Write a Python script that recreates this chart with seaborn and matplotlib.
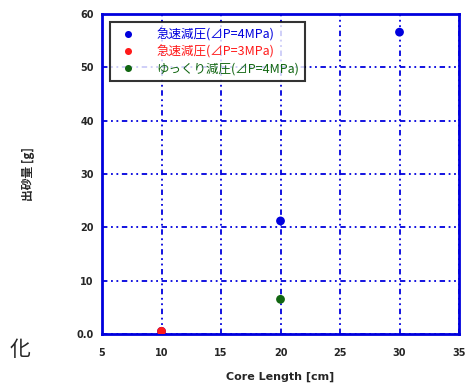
import matplotlib
matplotlib.use("Agg")
import matplotlib.pyplot as plt
import seaborn as sns
import pandas as pd

series = ["急速減圧(⊿P=4MPa)", "急速減圧(⊿P=3MPa)", "ゆっくり減圧(⊿P=4MPa)"]
colors = ["#0000dd", "#ff1a1a", "#116611"]
x_fast4 = [10, 20, 30]
y_fast4 = [0.5, 21.2, 56.6]
x_fast3 = [10]
y_fast3 = [0.5]
x_slow4 = [20]
y_slow4 = [6.5]
xticks = [5, 10, 15, 20, 25, 30, 35]
yticks = [0, 10, 20, 30, 40, 50, 60]
ytick_labels = ["0.0", "10", "20", "30", "40", "50", "60"]

df = pd.DataFrame({
    "x": x_fast4 + x_fast3 + x_slow4,
    "y": y_fast4 + y_fast3 + y_slow4,
    "s": [series[0]] * len(x_fast4) + [series[1]] * len(x_fast3) + [series[2]] * len(x_slow4),
})

sns.set_style("white")
plt.rcParams["font.family"] = ["Noto Sans CJK JP", "DejaVu Sans"]

fig = plt.figure(figsize=(4.69, 3.89), dpi=100)
ax = fig.add_axes([0.2175, 0.1414, 0.9787 - 0.2175, 0.964 - 0.1414])

sns.scatterplot(data=df, x="x", y="y", hue="s", palette=dict(zip(series, colors)),
                s=40, edgecolor="none", ax=ax, zorder=3)

ax.set_xlim(5, 35)
ax.set_ylim(0, 60)
ax.set_xticks(xticks)
ax.set_yticks(yticks)
ax.set_yticklabels(ytick_labels)
for lab in ax.get_xticklabels() + ax.get_yticklabels():
    lab.set_fontweight("bold")
    lab.set_fontsize(7)
    lab.set_family(["DejaVu Sans"])
ax.tick_params(axis="both", direction="in", length=4, width=1.5, color="#0000dd", pad=6)
ax.tick_params(axis="x", pad=10)

ax.grid(True, color="#0000dd", linestyle=(0, (3, 2, 1, 2, 1, 2)), linewidth=1.3)
ax.set_axisbelow(True)
for sp in ax.spines.values():
    sp.set_color("#0000dd")
    sp.set_linewidth(2)

ax.set_xlabel("Core Length [cm]", fontsize=8, fontweight="bold", labelpad=10, family=["DejaVu Sans"])
ax.set_ylabel("出砂量 [g]", fontsize=8.5, fontweight="bold", labelpad=30)

leg = ax.legend(loc="upper left", bbox_to_anchor=(0.004, 0.993), fontsize=9, frameon=True,
                fancybox=False, shadow=False, borderpad=0.45, handletextpad=1.3,
                labelspacing=0.3, markerscale=0.8, borderaxespad=0.5)
leg.get_frame().set_edgecolor("black")
leg.get_frame().set_linewidth(1.5)
for t, c in zip(leg.get_texts(), colors):
    t.set_color(c)

fig.text(20 / 469, 1 - 350 / 389, "化", fontsize=15, ha="center", va="center")

fig.savefig("out.png", dpi=100)
